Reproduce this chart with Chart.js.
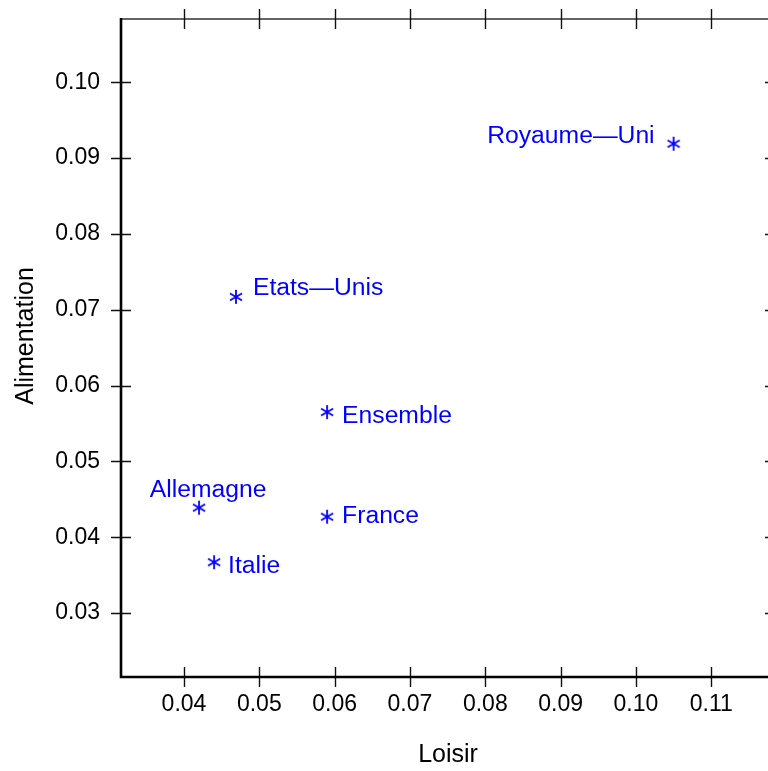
<!DOCTYPE html>
<html>
<head>
<meta charset="utf-8">
<script src="https://cdn.jsdelivr.net/npm/chart.js@4/dist/chart.umd.min.js"></script>
<style>
  html, body { margin: 0; padding: 0; background: #ffffff; overflow: hidden; }
  #wrap { width: 768px; height: 771px; overflow: hidden; position: relative; }
  canvas { display: block; }
</style>
</head>
<body>
<div id="wrap"><canvas id="c" width="790" height="771"></canvas></div>
<script>
// Budget shares: leisure (x) against food (y), by country
const countries    = ['Royaume\u2014Uni', 'Etats\u2014Unis', 'Ensemble', 'Allemagne', 'France', 'Italie'];
const loisir       = [0.1050, 0.0469, 0.0590, 0.0420, 0.0590, 0.0440];
const alimentation = [0.0919, 0.0717, 0.0565, 0.0439, 0.0427, 0.0367];

const xTickValues = [0.04, 0.05, 0.06, 0.07, 0.08, 0.09, 0.10, 0.11];
const yTickValues = [0.03, 0.04, 0.05, 0.06, 0.07, 0.08, 0.09, 0.10];
const xLimits = [0.03164, 0.11846];
const yLimits = [0.02156, 0.10835];

const xTitle = 'Loisir';
const yTitle = 'Alimentation';

// where each country name sits relative to its marker
const labelPlacement = [
  { align: 'right',  dx: -19, dy: -1 },
  { align: 'left',   dx: 17,  dy: -2 },
  { align: 'left',   dx: 15,  dy: 11 },
  { align: 'center', dx: 9,   dy: -11 },
  { align: 'left',   dx: 15,  dy: 6 },
  { align: 'left',   dx: 14,  dy: 11 }
];

const BLUE = '#0000ff';
const FONT = '"Liberation Sans", Arial, Helvetica, sans-serif';

// six-armed asterisk marker
function makeAsterisk() {
  const c = document.createElement('canvas');
  c.width = 16; c.height = 16;
  const g = c.getContext('2d');
  g.strokeStyle = BLUE;
  g.lineWidth = 1.8;
  g.lineCap = 'butt';
  const cx = 8, cy = 8, r = 7;
  g.beginPath();
  g.moveTo(cx, cy - r); g.lineTo(cx, cy + r);
  const dx = r * Math.cos(Math.PI / 6), dy = r * Math.sin(Math.PI / 6);
  g.moveTo(cx - dx, cy - dy); g.lineTo(cx + dx, cy + dy);
  g.moveTo(cx - dx, cy + dy); g.lineTo(cx + dx, cy - dy);
  g.stroke();
  return c;
}

const points = loisir.map((x, i) => ({ x: x, y: alimentation[i] }));

// frame with ticks crossing each side
const framePlugin = {
  id: 'frame',
  beforeDatasetsDraw(chart) {
    const { ctx, chartArea: a, scales: { x, y } } = chart;
    ctx.save();
    const T = 10;
    // top and right sides (lighter)
    ctx.strokeStyle = '#333333';
    ctx.lineWidth = 1.4;
    ctx.beginPath();
    ctx.moveTo(a.left, a.top); ctx.lineTo(a.right, a.top);
    ctx.moveTo(a.right, a.top); ctx.lineTo(a.right, a.bottom);
    ctx.stroke();
    ctx.strokeStyle = '#111111';
    ctx.lineWidth = 1.4;
    ctx.beginPath();
    xTickValues.forEach(v => {
      const px = Math.round(x.getPixelForValue(v)) + 0.5;
      ctx.moveTo(px, a.top - T); ctx.lineTo(px, a.top + T);
      ctx.moveTo(px, a.bottom - T); ctx.lineTo(px, a.bottom + T);
    });
    yTickValues.forEach(v => {
      const py = Math.round(y.getPixelForValue(v)) + 0.5;
      ctx.moveTo(a.left - T, py); ctx.lineTo(a.left + T, py);
      ctx.moveTo(a.right - T, py); ctx.lineTo(a.right + T, py);
    });
    ctx.stroke();
    // left and bottom sides (heavier)
    ctx.strokeStyle = '#000000';
    ctx.lineWidth = 2.6;
    ctx.beginPath();
    ctx.moveTo(a.left, a.top - 1); ctx.lineTo(a.left, a.bottom);
    ctx.lineTo(a.right, a.bottom);
    ctx.stroke();
    ctx.restore();
  },
  afterDraw(chart) {
    const { ctx, chartArea: a } = chart;
    ctx.save();
    ctx.fillStyle = '#000000';
    ctx.font = '25px ' + FONT;
    ctx.textAlign = 'center';
    ctx.textBaseline = 'middle';
    ctx.fillText(xTitle, (a.left + a.right) / 2, 755);
    ctx.translate(26, 336);
    ctx.rotate(-Math.PI / 2);
    ctx.fillText(yTitle, 0, 0);
    ctx.restore();
  }
};

// country names next to their markers
const namePlugin = {
  id: 'names',
  afterDatasetsDraw(chart) {
    const { ctx } = chart;
    const meta = chart.getDatasetMeta(0);
    ctx.save();
    ctx.fillStyle = BLUE;
    ctx.font = '24.7px ' + FONT;
    ctx.textBaseline = 'alphabetic';
    meta.data.forEach((pt, i) => {
      const p = labelPlacement[i];
      ctx.textAlign = p.align;
      ctx.fillText(countries[i], pt.x + p.dx, pt.y + p.dy);
    });
    ctx.restore();
  }
};

new Chart(document.getElementById('c'), {
  type: 'scatter',
  data: {
    datasets: [{
      data: points,
      pointStyle: makeAsterisk(),
      pointRadius: 8,
      pointHoverRadius: 8,
      borderColor: BLUE,
      backgroundColor: BLUE
    }]
  },
  options: {
    responsive: false,
    animation: false,
    devicePixelRatio: 1,
    layout: { padding: { top: 19, right: 15, left: 0, bottom: 0 } },
    plugins: { legend: { display: false }, tooltip: { enabled: false } },
    scales: {
      x: {
        type: 'linear',
        position: 'bottom',
        min: xLimits[0],
        max: xLimits[1],
        afterBuildTicks: s => { s.ticks = xTickValues.map(v => ({ value: v })); },
        afterFit: s => { s.height = 94; s.paddingLeft = 0; s.paddingRight = 0; },
        grid: { display: false, drawTicks: false },
        border: { display: false },
        ticks: {
          color: '#000000',
          font: { family: FONT, size: 23 },
          padding: 14,
          maxRotation: 0,
          autoSkip: false,
          callback: v => Number(v).toFixed(2)
        }
      },
      y: {
        type: 'linear',
        position: 'left',
        min: yLimits[0],
        max: yLimits[1],
        afterBuildTicks: s => { s.ticks = yTickValues.map(v => ({ value: v })); },
        afterFit: s => { s.width = 121; s.paddingTop = 0; s.paddingBottom = 0; },
        grid: { display: false, drawTicks: false },
        border: { display: false },
        ticks: {
          color: '#000000',
          font: { family: FONT, size: 23 },
          padding: 21,
          autoSkip: false,
          callback: v => Number(v).toFixed(2)
        }
      }
    }
  },
  plugins: [framePlugin, namePlugin]
});
</script>
</body>
</html>
